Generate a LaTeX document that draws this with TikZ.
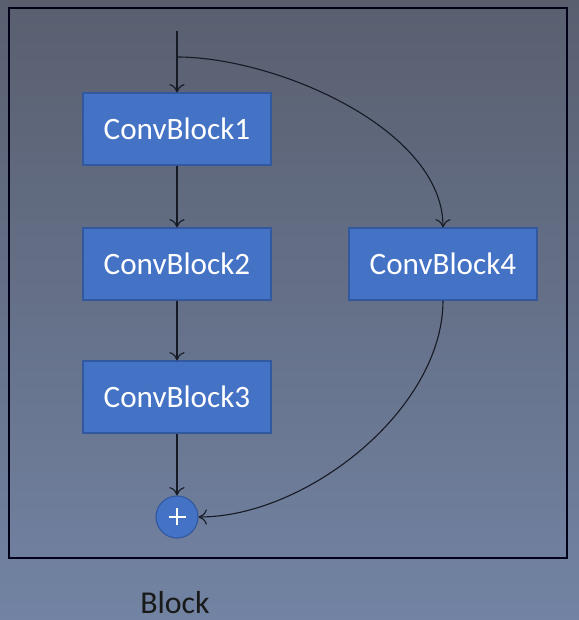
\documentclass[tikz,border=0pt]{standalone}
\usepackage{fontspec}
\setmainfont{Carlito}
\usetikzlibrary{arrows.meta}

\definecolor{bgtop}{RGB}{89,95,111}
\definecolor{bgbot}{RGB}{114,131,163}
\definecolor{boxblue}{RGB}{68,114,196}
\definecolor{boxedge}{RGB}{50,88,160}
\definecolor{wire}{RGB}{22,26,36}

\tikzset{
  convbox/.style={draw=boxedge, line width=0.8pt, fill=boxblue, text=white,
    minimum width=1.88in, minimum height=0.72in, inner sep=0pt,
    font=\fontsize{22.5}{26}\selectfont},
  sumnode/.style={circle, draw=boxedge, line width=0.8pt, fill=boxblue,
    minimum size=0.42in, inner sep=0pt,
    path picture={\draw[white, line width=0.9pt]
      ([xshift=-0.085in]path picture bounding box.center) -- ([xshift=0.085in]path picture bounding box.center)
      ([yshift=-0.085in]path picture bounding box.center) -- ([yshift=0.085in]path picture bounding box.center);}},
  flow/.style={line width=0.8pt, wire, -{To[length=6pt,width=11pt]}}
}

\begin{document}
\begin{tikzpicture}[x=1in,y=1in]
\shade[top color=bgtop, bottom color=bgbot] (0,0) rectangle (5.79,6.20);
\useasboundingbox (0,0) rectangle (5.79,6.20);
\draw[line width=1.3pt, black!90!blue] (0.0900,0.6200) rectangle (5.6700,6.1200);
\coordinate (in) at (1.7700,5.8900);
\coordinate (split) at (1.7700,5.6300);
\node[convbox] (cb1) at (1.7700,4.9100) {ConvBlock1};
\node[convbox] (cb2) at (1.7700,3.5600) {ConvBlock2};
\node[convbox] (cb3) at (1.7700,2.2300) {ConvBlock3};
\node[convbox] (cb4) at (4.4300,3.5600) {ConvBlock4};
\node[sumnode] (sum) at (1.7700,1.0300) {};
\node[font=\fontsize{23}{26}\selectfont, text=black!90] (lbl) at (1.7500,0.1700) {Block};
\draw[flow] (in) -- (cb1);
\draw[flow] (split) to[out=0, in=90, looseness=0.8] (cb4.north);
\draw[flow] (cb1) -- (cb2);
\draw[flow] (cb2) -- (cb3);
\draw[flow] (cb3) -- (sum);
\draw[flow] (cb4.south) to[out=-90, in=0, looseness=0.85] (sum.east);
\end{tikzpicture}
\end{document}
